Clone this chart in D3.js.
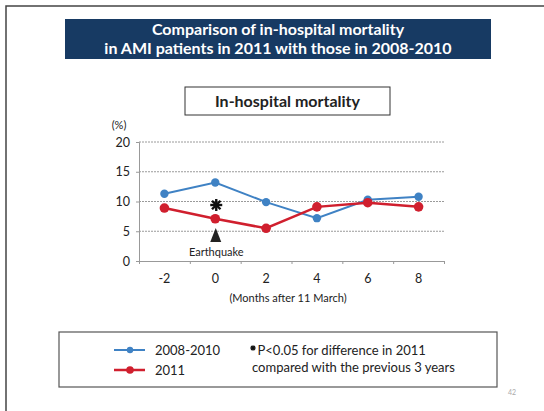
<!DOCTYPE html>
<html>
<head>
<meta charset="utf-8">
<script src="https://cdn.jsdelivr.net/npm/d3@7"></script>
<style>
  html, body { margin: 0; padding: 0; background: #fff; }
  svg { display: block; font-family: Lato, "Open Sans", sans-serif; }
</style>
</head>
<body>
<svg id="chart" width="544" height="411"></svg>
<script>
// Months relative to the earthquake (11 March 2011)
const months = [-2, 0, 2, 4, 6, 8];
// In-hospital mortality (%)
const mortality20082010 = [11.3, 13.2, 9.9, 7.2, 10.3, 10.8];
const mortality2011 = [8.9, 7.1, 5.5, 9.1, 9.8, 9.1];
const yTicks = [0, 5, 10, 15, 20];
const xTickLabels = ["-2", "0", "2", "4", "6", "8"];
const seriesNames = ["2008-2010", "2011"];
const seriesColors = ["#3f82c4", "#d01f2e"];

const svg = d3.select("#chart");

// Slide frame
svg.append("path")
  .attr("d", "M6,420 L6,6 L550,6")
  .attr("fill", "none").attr("stroke", "#444").attr("stroke-width", 1.5);

// Title banner
svg.append("rect").attr("x", 65).attr("y", 19).attr("width", 426).attr("height", 40)
  .attr("fill", "#173a63");
const title = svg.append("text").attr("text-anchor", "middle").attr("fill", "#fff")
  .attr("font-weight", "bold").attr("font-size", 16);
title.append("tspan").attr("x", 278).attr("y", 35).text("Comparison of in-hospital mortality");
title.append("tspan").attr("x", 278).attr("y", 53.5).text("in AMI patients in 2011 with those in 2008-2010");

// Chart heading box
svg.append("rect").attr("x", 185).attr("y", 87).attr("width", 205).attr("height", 28)
  .attr("fill", "#fff").attr("stroke", "#333").attr("stroke-width", 1);
svg.append("text").attr("x", 287.5).attr("y", 106.5).attr("text-anchor", "middle")
  .attr("font-weight", "bold").attr("font-size", 16).attr("fill", "#222")
  .text("In-hospital mortality");

// Scales
const x = d3.scaleLinear().domain([-3, 9]).range([139, 444]);
const y = d3.scaleLinear().domain([0, 20]).range([261, 142]);

// Gridlines
svg.append("g").selectAll("line").data(yTicks.filter(d => d > 0)).join("line")
  .attr("x1", x(-3)).attr("x2", x(9))
  .attr("y1", d => y(d)).attr("y2", d => y(d))
  .attr("stroke", "#9a9a9a").attr("stroke-width", 1).attr("stroke-dasharray", "2,1");

// Y axis
const yAxis = svg.append("g").attr("transform", `translate(${x(-3)},0)`)
  .call(d3.axisLeft(y).tickValues(yTicks).tickSize(3).tickPadding(6));
yAxis.select(".domain").attr("stroke", "#999");
yAxis.selectAll(".tick line").attr("stroke", "#999");
yAxis.selectAll(".tick text").attr("font-size", 12.5).attr("fill", "#222")
  .attr("font-family", "Lato, sans-serif");

svg.append("text").attr("x", 119).attr("y", 129).attr("text-anchor", "middle")
  .attr("font-size", 11).attr("fill", "#222").text("(%)");

// X axis: ticks fall between the month categories
const xAxis = svg.append("g").attr("transform", `translate(0,${y(0)})`)
  .call(d3.axisBottom(x).tickValues(d3.range(-3, 10, 2)).tickSize(3).tickFormat(""));
xAxis.select(".domain").attr("stroke", "#999");
xAxis.selectAll(".tick line").attr("stroke", "#999");

svg.append("g").selectAll("text").data(months).join("text")
  .attr("x", d => x(d)).attr("y", 283).attr("text-anchor", "middle")
  .attr("font-size", 12.5).attr("fill", "#222")
  .text((d, i) => xTickLabels[i]);

svg.append("text").attr("x", 288).attr("y", 302).attr("text-anchor", "middle")
  .attr("font-size", 11).attr("fill", "#222").text("(Months after 11 March)");

// Series
const line = d3.line().x(d => x(d[0])).y(d => y(d[1]));
[mortality20082010, mortality2011].forEach((vals, i) => {
  const pts = months.map((m, j) => [m, vals[j]]);
  const g = svg.append("g");
  g.append("path").datum(pts).attr("d", line).attr("fill", "none")
    .attr("stroke", seriesColors[i]).attr("stroke-width", i === 0 ? 2 : 2.5);
  g.selectAll("circle").data(pts).join("circle")
    .attr("cx", d => x(d[0])).attr("cy", d => y(d[1]))
    .attr("r", i === 0 ? 4.2 : 4.8).attr("fill", seriesColors[i]);
});

// Eight-spoke asterisk drawn as crossing strokes
function asterisk(cx, cy, r, w) {
  const g = svg.append("g");
  [0, 45, 90, 135].forEach(a => {
    const t = a * Math.PI / 180;
    g.append("line")
      .attr("x1", cx - r * Math.cos(t)).attr("y1", cy - r * Math.sin(t))
      .attr("x2", cx + r * Math.cos(t)).attr("y2", cy + r * Math.sin(t))
      .attr("stroke", "#111").attr("stroke-width", w);
  });
}

// Significance mark and earthquake marker at month 0
asterisk(x(0) + 1, 205, 6, 2.4);
svg.append("path")
  .attr("d", `M${x(0) + 0.5},228 L${x(0) + 6},242 L${x(0) - 5},242 Z`)
  .attr("fill", "#222");
svg.append("text").attr("x", x(0) + 1).attr("y", 256).attr("text-anchor", "middle")
  .attr("font-size", 11).attr("fill", "#222").text("Earthquake");

// Legend
svg.append("rect").attr("x", 59).attr("y", 332).attr("width", 438).attr("height", 55)
  .attr("fill", "#fff").attr("stroke", "#555").attr("stroke-width", 1.2);
seriesNames.forEach((name, i) => {
  const ly = 350 + i * 20;
  svg.append("line").attr("x1", 114).attr("x2", 145).attr("y1", ly).attr("y2", ly)
    .attr("stroke", seriesColors[i]).attr("stroke-width", i === 0 ? 2 : 2.5);
  svg.append("circle").attr("cx", 130).attr("cy", ly).attr("r", i === 0 ? 3.2 : 3.8)
    .attr("fill", seriesColors[i]);
  svg.append("text").attr("x", 155).attr("y", ly + 4.5).attr("font-size", 13)
    .attr("fill", "#222").text(name);
});
asterisk(253, 348, 2.6, 1.6);
svg.append("text").attr("x", 257.5).attr("y", 355).attr("font-size", 13).attr("fill", "#222")
  .text("P<0.05 for difference in 2011");
svg.append("text").attr("x", 252).attr("y", 372).attr("font-size", 13).attr("fill", "#222")
  .text("compared with the previous 3 years");

// Page number
svg.append("text").attr("x", 512).attr("y", 395).attr("text-anchor", "middle")
  .attr("font-size", 7).attr("fill", "#aaa").text("42");
</script>
</body>
</html>
